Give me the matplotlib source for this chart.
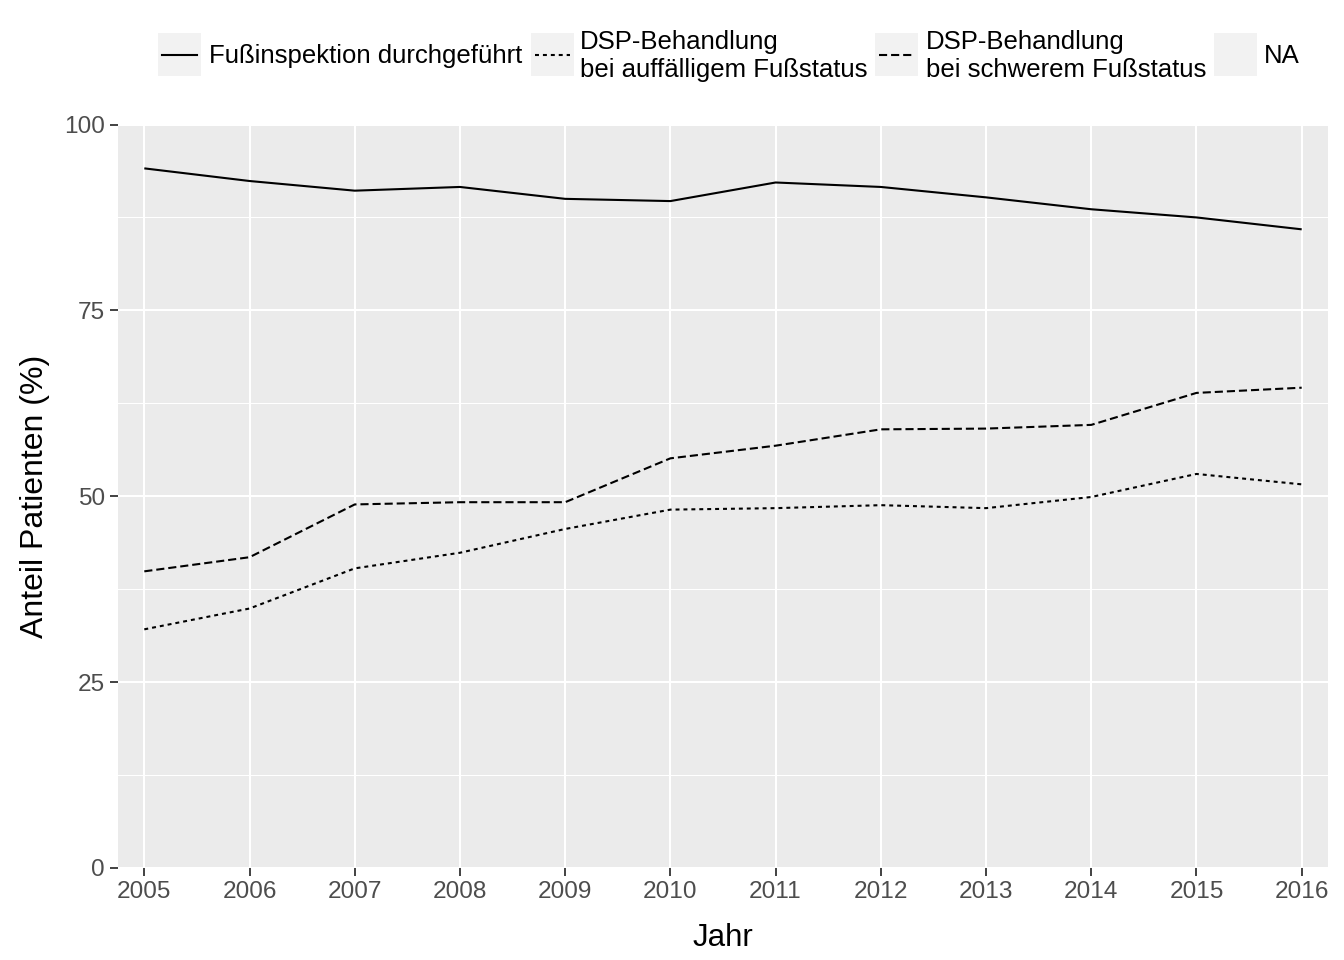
"""Line chart: share of patients with foot inspection / DSP treatment, 2005-2016."""
import matplotlib
matplotlib.use("Agg")
import matplotlib.pyplot as plt
from matplotlib.lines import Line2D
from matplotlib.patches import Rectangle

W, H = 1344, 960

years = [2005, 2006, 2007, 2008, 2009, 2010, 2011, 2012, 2013, 2014, 2015, 2016]
fussinspektion = [94.1, 92.4, 91.1, 91.6, 90.0, 89.7, 92.2, 91.6, 90.2, 88.6, 87.5, 85.9]
dsp_auffaellig = [32.1, 34.9, 40.3, 42.4, 45.6, 48.2, 48.4, 48.8, 48.4, 49.9, 53.0, 51.6]
dsp_schwer = [39.9, 41.8, 48.9, 49.2, 49.2, 55.1, 56.8, 59.0, 59.1, 59.6, 63.9, 64.6]

series = [fussinspektion, dsp_auffaellig, dsp_schwer]
labels = ["Fußinspektion durchgeführt",
          "DSP-Behandlung\nbei auffälligem Fußstatus",
          "DSP-Behandlung\nbei schwerem Fußstatus",
          "NA"]
y_ticks = [0, 25, 50, 75, 100]

LW = 1.5
STYLES = [
    dict(linestyle="-"),
    dict(linestyle=(0, (1.9, 1.9))),
    dict(linestyle=(0, (3.9, 1.9))),
]

PANEL = "#EBEBEB"
KEY_BG = "#F2F2F2"
TICK_TXT = "#4D4D4D"
TICK_COL = "#333333"

plt.rcParams["font.family"] = ["Liberation Sans", "DejaVu Sans"]


def fx(x):
    return x / W


def fy(y):
    return 1 - y / H


fig = plt.figure(figsize=(W / 100, H / 100), dpi=100)
fig.patch.set_facecolor("white")

# panel placed in pixel coordinates of the reference
ax = fig.add_axes([fx(118), fy(868), fx(1328 - 118), (868 - 124.5) / H])
ax.set_facecolor(PANEL)

for vals, st in zip(series, STYLES):
    ax.plot(years, vals, color="black", linewidth=LW, solid_capstyle="butt",
            dash_capstyle="butt", zorder=3, **st)

ax.set_xlim(2004.75, 2016.25)
ax.set_ylim(0, 100)
ax.set_xticks(years)
ax.set_yticks(y_ticks)
ax.set_yticks([12.5, 37.5, 62.5, 87.5], minor=True)
ax.grid(True, which="major", color="white", linewidth=1.5, zorder=1)
ax.grid(True, which="minor", axis="y", color="white", linewidth=0.75, zorder=1)
ax.set_axisbelow(True)
for s in ax.spines.values():
    s.set_visible(False)
ax.tick_params(which="major", length=5.5, width=1.3, color=TICK_COL,
               labelsize=17.6, labelcolor=TICK_TXT, pad=4)
ax.tick_params(which="minor", length=0)

ax.set_xlabel("Jahr", fontsize=22.5, color="black", labelpad=14)
ax.set_ylabel("Anteil Patienten (%)", fontsize=23, color="black", labelpad=10)

# legend along the top, drawn by hand to mimic ggplot keys
key_left = [158, 531, 875, 1214]
text_left = [209, 580, 926, 1264]
key_w, key_top, key_h = 43, 33, 43
for i, lab in enumerate(labels):
    kx = key_left[i]
    fig.add_artist(Rectangle((fx(kx), fy(key_top + key_h)), key_w / W, key_h / H,
                             transform=fig.transFigure, facecolor=KEY_BG,
                             edgecolor="none"))
    if i < len(STYLES):
        yc = fy(key_top + key_h / 2)
        fig.add_artist(Line2D([fx(kx + 4.3), fx(kx + key_w - 4.3)], [yc, yc],
                              transform=fig.transFigure, color="black",
                              linewidth=LW, dash_capstyle="butt", **STYLES[i]))
    fig.text(fx(text_left[i]), fy(56), lab, fontsize=18.5, color="black",
             ha="left", va="center", linespacing=1.2)

fig.savefig("out.png", dpi=100, facecolor="white")
